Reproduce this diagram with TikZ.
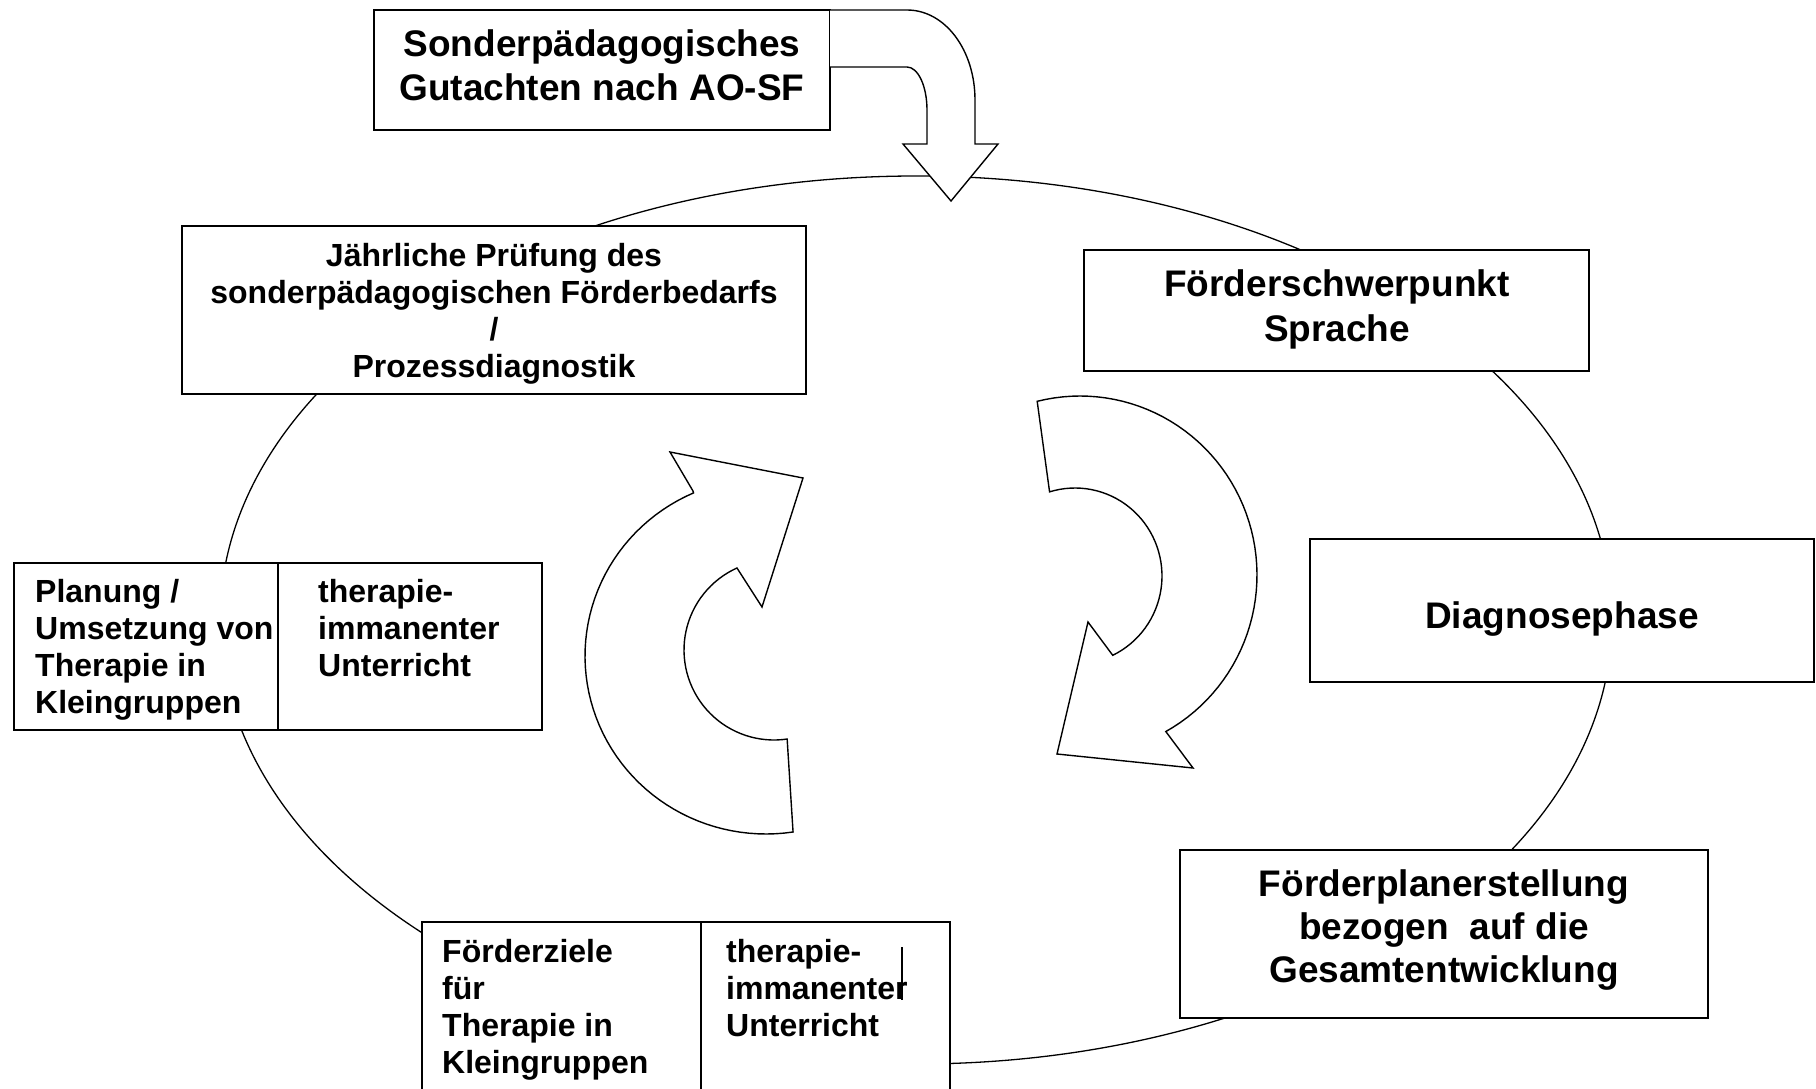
\documentclass[tikz,border=0pt]{standalone}
\usepackage{fontspec}
\setmainfont{Liberation Sans}
\usetikzlibrary{shapes.geometric}
\begin{document}
\begin{tikzpicture}[x=1pt,y=-1pt,
  box/.style={draw=black, line width=1.5pt, fill=white, rectangle, inner sep=0pt, outer sep=0pt},
  bigtxt/.style={inner sep=0pt, font=\fontsize{37}{44}\selectfont\bfseries, align=center, anchor=north},
  smalltxt/.style={inner sep=0pt, font=\fontsize{32}{37}\selectfont\bfseries},
  blockarrow/.style={draw=black, line width=1.4pt, fill=white, line join=miter},
  ring/.style={draw=black, line width=1.3pt, ellipse, inner sep=0pt, outer sep=0pt}]
\useasboundingbox (0,0) rectangle (1816,1089);
\clip (0,0) rectangle (1816,1089);
\fill[white] (0,0) rectangle (1816,1089);

% big cycle ellipse
\node[ring, minimum width=1392pt, minimum height=888pt] (cycle) at (916,620) {};

% boxes
\node[box, minimum width=456pt, minimum height=120pt] (gut) at (602,70) {};
\node[box, minimum width=624pt, minimum height=168pt] (pruef) at (494,310) {};
\node[box, minimum width=505pt, minimum height=121pt] (schwer) at (1336.5,310.5) {};
\node[box, minimum width=504pt, minimum height=143pt] (diag) at (1562,610.5) {};
\node[box, minimum width=528pt, minimum height=168pt] (plan) at (1444,934) {};
\node[box, minimum width=264pt, minimum height=167pt] (umsL) at (146,646.5) {};
\node[box, minimum width=264pt, minimum height=167pt] (umsR) at (410,646.5) {};
\node[box, minimum width=279pt, minimum height=188pt] (zielL) at (561.5,1016) {};
\node[box, minimum width=249pt, minimum height=188pt] (zielR) at (825.5,1016) {};

% texts
\node[bigtxt] (tgut) at (602,29) {Sonderpädagogisches\\Gutachten nach AO-SF};
\node[smalltxt, align=center, anchor=north] (tpruef) at (494,243) {Jährliche Prüfung des\\sonderpädagogischen Förderbedarfs\\/\\Prozessdiagnostik};
\node[bigtxt, font=\fontsize{37}{45}\selectfont\bfseries] (tschwer) at (1337,269) {Förderschwerpunkt\\Sprache};
\node[bigtxt] (tdiag) at (1562,601) {Diagnosephase};
\node[bigtxt, font=\fontsize{37}{43}\selectfont\bfseries] (tplan) at (1444,869) {Förderplanerstellung\\bezogen\ \ auf die\\Gesamtentwicklung};
\node[smalltxt, align=left, anchor=north west] (tumsL) at (35,579) {Planung /\\Umsetzung von\\Therapie in\\Kleingruppen};
\node[smalltxt, align=left, anchor=north west] (tumsR) at (318,579) {therapie-\\immanenter\\Unterricht};
\node[smalltxt, align=left, anchor=north west] (tzielL) at (442,939) {Förderziele\\für\\Therapie in\\Kleingruppen};
\node[smalltxt, align=left, anchor=north west] (tzielR) at (726,939) {therapie-\\immanenter\\Unterricht};

% small vertical stroke in the bottom box
\coordinate (cur1) at (902,947);
\coordinate (cur2) at (902,1000);
\draw[line width=1.3pt] (cur1) -- (cur2);

% bent arrow from the top box
\draw[blockarrow] (830,10) -- (907,10) .. controls (945,10) and (975,50) .. (975,100)
  -- (975,144) -- (998,144) -- (951,201) -- (903,144) -- (927,144) -- (927,110)
  .. controls (927,86) and (918,67) .. (907,67) -- (830,67);

% left circular arrow (counter-clockwise)
\draw[blockarrow] (670,452) -- (693,491)
  -- plot[domain=-113.6:-278.6, samples=60, variable=\t] ({766+181*cos(\t)},{656+178*sin(\t)})
  -- plot[domain=81.6:245.7, samples=50, variable=\t] ({774+90*cos(\t)},{650+90*sin(\t)})
  -- (762,607) -- (803,478) -- cycle;

% right circular arrow (clockwise)
\draw[blockarrow] plot[domain=-104:61, samples=60, variable=\t] ({1080+177*cos(\t)},{575+179*sin(\t)})
  -- (1193,768) -- (1057,754) -- (1088,622)
  -- plot[domain=64.3:-107, samples=50, variable=\t] ({1075+87*cos(\t)},{576+88*sin(\t)})
  -- cycle;
\end{tikzpicture}
\end{document}
